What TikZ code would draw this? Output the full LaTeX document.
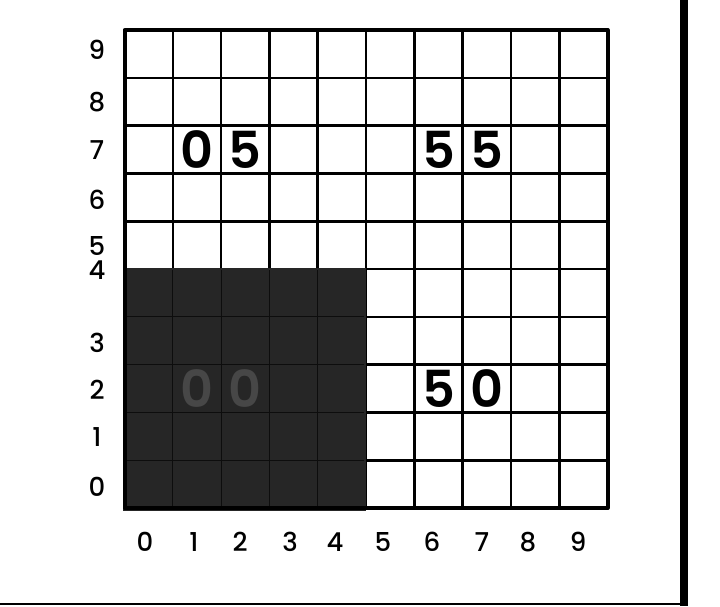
\documentclass[tikz,border=0pt]{standalone}
\usepackage{fontspec}
\setmainfont{Poppins}
\newfontfamily\axfont{Poppins Medium}
\newfontfamily\bigfont{Poppins SemiBold}
\begin{document}
\begin{tikzpicture}[x=1pt,y=-1pt,
  gridline/.style={line width=2.6pt,line cap=round},
  frameline/.style={line width=4pt,line cap=round,line join=round},
  axislbl/.style={font=\axfont\fontsize{26}{26}\selectfont,inner sep=0pt},
  bigdigit/.style={font=\bigfont\fontsize{51}{51}\selectfont,inner sep=0pt},
  faintdigit/.style={font=\bigfont\fontsize{51}{51}\selectfont,inner sep=0pt,text=black!72},
  shade/.style={fill=black!85,draw=none},
  shadeline/.style={line width=1.2pt,draw=black!95}
]
\useasboundingbox (0,0) rectangle (720,606);
\fill[white] (0,0) rectangle (720,606);
\def\xa{124.5}\def\dx{48.3}
\def\ya{508}\def\dy{47.8}
% grid lines
\foreach \i in {1,...,9} {
  \draw[gridline] ({\xa+\i*\dx},30) -- ({\xa+\i*\dx},\ya);
  \draw[gridline] (\xa,{\ya-\i*\dy}) -- ({\xa+10*\dx},{\ya-\i*\dy});
}
% shaded block
\fill[shade] (122.5,268) rectangle (366,511);
\foreach \i in {1,...,4} {
  \draw[shadeline] ({\xa+\i*\dx},270) -- ({\xa+\i*\dx},509);
  \draw[shadeline] (124,{\ya-\i*\dy}) -- (364,{\ya-\i*\dy});
}
% outer frame
\draw[frameline] (\xa,30) rectangle ({\xa+10*\dx},\ya);
% page rules
\coordinate (rtop) at (684,0);
\coordinate (rbot) at (684,606);
\coordinate (bl) at (0,604);
\coordinate (br) at (684,604);
\draw[line width=7.5pt] (rtop) -- (rbot);
\draw[line width=2pt] (bl) -- (br);
% big labels
\node[bigdigit] (d05a) at ({\xa+1.5*\dx},{\ya-7.5*\dy}) {0};
\node[bigdigit] (d05b) at ({\xa+2.5*\dx},{\ya-7.5*\dy}) {5};
\node[bigdigit] (d55a) at ({\xa+6.5*\dx},{\ya-7.5*\dy}) {5};
\node[bigdigit] (d55b) at ({\xa+7.5*\dx},{\ya-7.5*\dy}) {5};
\node[bigdigit] (d50a) at ({\xa+6.5*\dx},{\ya-2.5*\dy}) {5};
\node[bigdigit] (d50b) at ({\xa+7.5*\dx},{\ya-2.5*\dy}) {0};
\node[faintdigit] (d00a) at ({\xa+1.5*\dx},{\ya-2.5*\dy}) {0};
\node[faintdigit] (d00b) at ({\xa+2.5*\dx},{\ya-2.5*\dy}) {0};
% y axis labels
\foreach \n/\yy in {9/50,8/102,7/150,6/200,5/246,4/270,3/343,2/390,1/437,0/487}
  \node[axislbl] (yl\n) at (97,\yy) {\n};
% x axis labels
\foreach \n/\xx in {0/145,1/194,2/240,3/290,4/335,5/383,6/432,7/482,8/528,9/578}
  \node[axislbl] (xl\n) at (\xx,542) {\n};
\end{tikzpicture}
\end{document}
